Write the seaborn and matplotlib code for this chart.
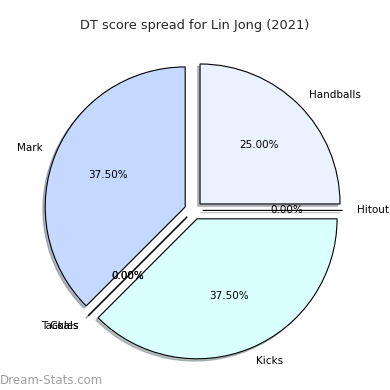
import matplotlib
matplotlib.use('Agg')
import matplotlib.pyplot as plt
import seaborn as sns

labels = ['Handballs', 'Hitout', 'Kicks', 'Goals', 'Tackles', 'Mark']
values = [2, 0, 3, 0, 0, 3]
colors = ['#eaf1ff', '#e0e8ff', '#d9ffff', '#d0e0ff', '#d0e0ff', '#c5d8ff']

sns.set_style('white')
plt.rcParams['font.family'] = ['DejaVu Sans']

fig = plt.figure(figsize=(3.9, 3.9), dpi=100)
ax = fig.add_axes([0, 0, 1, 1])

ax.pie(values, labels=labels, colors=colors, autopct='%1.2f%%',
       startangle=90, counterclock=False, explode=[0.065] * len(values),
       shadow={'ox': -0.012, 'oy': -0.012, 'shade': 0.5},
       wedgeprops={'edgecolor': 'black', 'linewidth': 0.8},
       textprops={'fontsize': 7.5, 'color': 'black'})

ax.set_aspect('equal')
ax.set_xlim(-1.383, 1.403)
ax.set_ylim(-1.283, 1.503)
ax.axis('off')

fig.text(0.5, 1 - 25 / 390, 'DT score spread for Lin Jong (2021)',
         ha='center', va='center', fontsize=9.3)
fig.text(0.0, 1 - 380 / 390, 'Dream-Stats.com', ha='left', va='center',
         fontsize=8.5, color='#a0a0a0')

fig.savefig('out.png', dpi=100)
